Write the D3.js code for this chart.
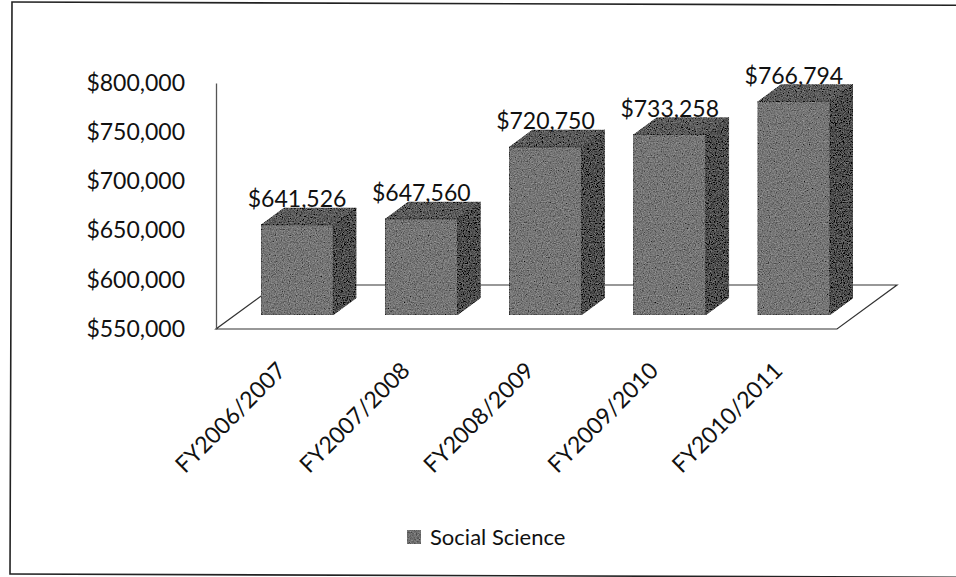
<!DOCTYPE html>
<html>
<head>
<meta charset="utf-8">
<script src="https://cdn.jsdelivr.net/npm/d3@7/dist/d3.min.js"></script>
<style>
  html, body { margin: 0; padding: 0; background: #fff; }
  svg { display: block; }
  text { font-family: Lato, "Open Sans", sans-serif; fill: #111; }
</style>
</head>
<body>
<svg id="chart" width="956" height="577"></svg>
<script>
// Funding by fiscal year
const categories = ["FY2006/2007", "FY2007/2008", "FY2008/2009", "FY2009/2010", "FY2010/2011"];
const values = [641526, 647560, 720750, 733258, 766794];
const yTicks = [550000, 600000, 650000, 700000, 750000, 800000];
const seriesName = "Social Science";

const svg = d3.select("#chart");
const W = 956, H = 577;

// Grainy fill texture for the columns
const defs = svg.append("defs");
const grain = defs.append("filter").attr("id", "grain")
  .attr("x", 0).attr("y", 0).attr("width", 1).attr("height", 1);
grain.append("feTurbulence").attr("type", "fractalNoise")
  .attr("baseFrequency", 0.85).attr("numOctaves", 2).attr("seed", 4).attr("result", "n");
grain.append("feColorMatrix").attr("in", "n").attr("type", "matrix")
  .attr("values", "0.33 0.33 0.33 0 0  0.33 0.33 0.33 0 0  0.33 0.33 0.33 0 0  0 0 0 0 1")
  .attr("result", "g");
grain.append("feComposite").attr("in", "SourceGraphic").attr("in2", "g")
  .attr("operator", "arithmetic").attr("k1", 0).attr("k2", 1).attr("k3", 0.7).attr("k4", -0.35)
  .attr("result", "c");
grain.append("feComposite").attr("in", "c").attr("in2", "SourceGraphic").attr("operator", "in");

// Outer frame
svg.append("rect")
  .attr("x", 12).attr("y", 2).attr("width", 1000).attr("height", 572)
  .attr("fill", "none").attr("stroke", "#222").attr("stroke-width", 1.6)
  .attr("transform", "rotate(0.2 12 2)");

// Scales (front plane of the plot)
const x = d3.scaleBand().domain(categories).range([216, 837])
  .paddingInner(0.42).paddingOuter(0.21);
const y = d3.scaleLinear().domain([550000, 800000]).range([329, 83]);

// Depth offsets: floor depth, column position inside it, column depth
const floorD = { dx: 60, dy: -44 };
const colOff = { dx: 19, dy: -14 };
const colD = { dx: 23, dy: -17 };

// Floor
const base = y(550000);
const [rx0, rx1] = x.range();
svg.append("polygon")
  .attr("points", [
    [rx0, base], [rx1, base],
    [rx1 + floorD.dx, base + floorD.dy], [rx0 + floorD.dx, base + floorD.dy]
  ].map(p => p.join(",")).join(" "))
  .attr("fill", "#fff").attr("stroke", "#333").attr("stroke-width", 1.2);

// Value axis
const yAxis = svg.append("g")
  .attr("transform", `translate(${rx0},0)`)
  .call(d3.axisLeft(y).tickValues(yTicks).tickSize(0).tickSizeOuter(0).tickPadding(31)
    .tickFormat(d => "$" + d3.format(",")(d)));
yAxis.select(".domain").attr("stroke", "#555").attr("stroke-width", 1.3);
yAxis.selectAll("text").style("font-size", "23px").attr("fill", "#111");

// Columns
const bw = x.bandwidth();
const cols = svg.append("g").attr("filter", "url(#grain)");
values.forEach((v, i) => {
  const x0 = x(categories[i]) + colOff.dx;
  const x1 = x0 + bw;
  const yt = y(v) + colOff.dy;
  const yb = base + colOff.dy;
  const g = cols.append("g").attr("stroke", "#3a3a3a").attr("stroke-width", 0.6);
  // side
  g.append("polygon").attr("points", [
    [x1, yt], [x1 + colD.dx, yt + colD.dy], [x1 + colD.dx, yb + colD.dy], [x1, yb]
  ].map(p => p.join(",")).join(" ")).attr("fill", "#4f4f4f");
  // top
  g.append("polygon").attr("points", [
    [x0, yt], [x0 + colD.dx, yt + colD.dy], [x1 + colD.dx, yt + colD.dy], [x1, yt]
  ].map(p => p.join(",")).join(" ")).attr("fill", "#5c5c5c");
  // front
  g.append("rect").attr("x", x0).attr("y", yt).attr("width", bw).attr("height", yb - yt)
    .attr("fill", "#767676");
});

// Data labels
svg.append("g").selectAll("text").data(values).join("text")
  .attr("x", (d, i) => x(categories[i]) + colOff.dx + bw / 2)
  .attr("y", d => y(d) + colOff.dy + colD.dy - 1)
  .attr("text-anchor", "middle")
  .style("font-size", "23px")
  .text(d => "$" + d3.format(",")(d));

// Category axis
const xAxis = svg.append("g")
  .attr("transform", `translate(0,${base})`)
  .call(d3.axisBottom(x).tickSize(0));
xAxis.select(".domain").remove();
xAxis.selectAll("text")
  .attr("x", 0).attr("y", 0).attr("dy", 0)
  .attr("text-anchor", "end")
  .attr("transform", "translate(9,43) rotate(-45)")
  .style("font-size", "23px").attr("fill", "#111");

// Legend
const leg = svg.append("g").attr("transform", "translate(407,530)");
leg.append("rect").attr("width", 14).attr("height", 14)
  .attr("fill", "#707070").attr("filter", "url(#grain)");
leg.append("text").attr("x", 23).attr("y", 7).attr("dy", "0.35em")
  .style("font-size", "22px").text(seriesName);
</script>
</body>
</html>
